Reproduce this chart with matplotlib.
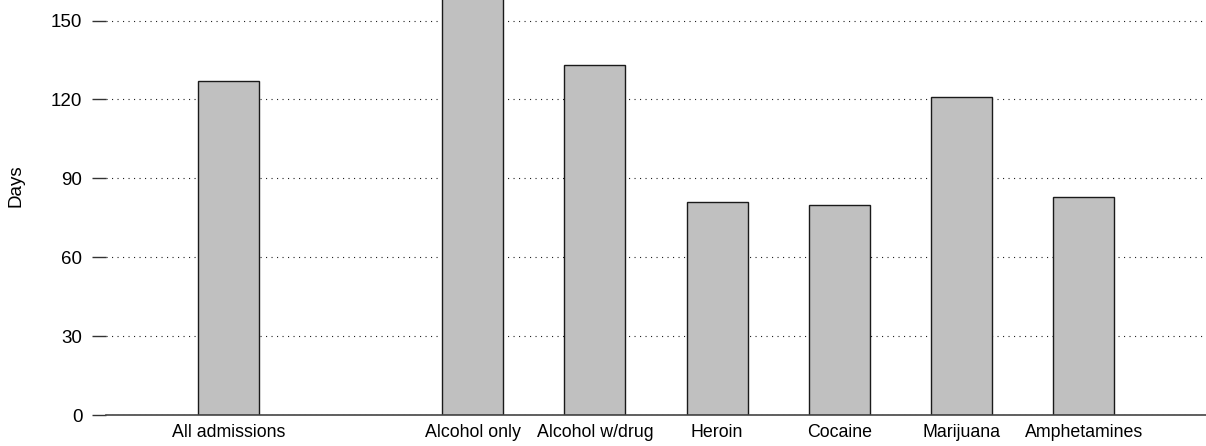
import matplotlib
matplotlib.use("Agg")
import matplotlib.pyplot as plt

categories = ["All admissions", "Alcohol only", "Alcohol w/drug", "Heroin",
              "Cocaine", "Marijuana", "Amphetamines"]
positions = [0, 2, 3, 4, 5, 6, 7]
values = [127, 165, 133, 81, 80, 121, 83]
yticks = [0, 30, 60, 90, 120, 150]

plt.rcParams['font.family'] = ['Liberation Sans', 'DejaVu Sans']
fig = plt.figure(figsize=(12.06, 4.46), dpi=100)
ax = fig.add_axes([106/1206, 31/446, 1100/1206, 415/446])

ax.bar(positions, values, width=0.5, color='#c0c0c0', edgecolor='#1a1a1a',
       linewidth=1.0, zorder=3)
ax.set_xlim(-1, 8)
ax.set_ylim(0, 157.8)
ax.set_yticks(yticks)
ax.set_xticks(positions)
ax.set_xticklabels(categories, fontsize=12.8)
ax.tick_params(axis='x', length=0, pad=6.5)
ax.tick_params(axis='y', length=10, width=1, color='#333333', labelsize=13.5, pad=7)
ax.yaxis.grid(True, linestyle=(0, (1, 3.95)), color='#222222', linewidth=0.8, zorder=0)
for s in ['top', 'right', 'left']:
    ax.spines[s].set_visible(False)
ax.spines['bottom'].set_color('#444444')
ax.spines['bottom'].set_linewidth(1.2)
ax.spines['bottom'].set_zorder(4)
ax.set_ylabel("Days", fontsize=13.5)
ax.yaxis.set_label_coords((25-106)/1100, (415-186)/415)

fig.savefig("out.png", dpi=100)
